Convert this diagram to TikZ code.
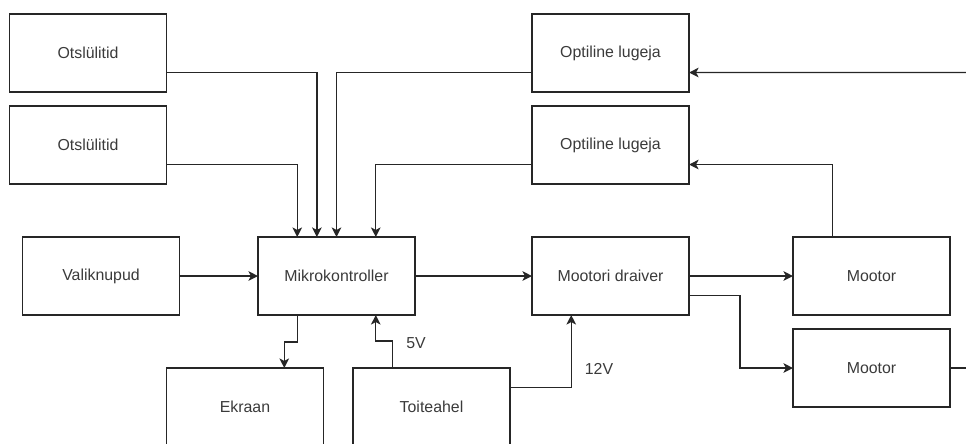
\documentclass[tikz,border=0pt]{standalone}
\usepackage{fontspec}
\setsansfont{Liberation Sans}
\usepackage{tikz}
\usetikzlibrary{arrows.meta,calc}
\definecolor{blkline}{HTML}{262626}
\definecolor{blktext}{HTML}{3A3A3A}

\tikzset{
  block/.style={draw=blkline,line width=1pt,minimum width=3.925cm,minimum height=1.95cm,inner sep=0pt,outer sep=0pt,text=blktext},
  wire/.style={draw=blkline,line width=1pt},
  arr/.style={wire,-{Stealth[length=6.8pt,width=6.8pt,inset=1.8pt]}},
  volt/.style={text=blktext}
}

\begin{document}
\begin{tikzpicture}[x=0.025cm,y=-0.025cm,font=\sffamily\fontsize{11.3}{13}\selectfont]
  \useasboundingbox (0,0) rectangle (966,443);
  % left column
  \node[block] (ots1) at (88,53) {Otslülitid};
  \node[block] (ots2) at (88,145) {Otslülitid};
  \node[block] (valik) at (101,276) {Valiknupud};
  % middle
  \node[block] (mcu) at (336.5,276) {Mikrokontroller};
  \node[block] (ekraan) at (245,407) {Ekraan};
  \node[block] (toite) at (431.5,407) {Toiteahel};
  % right side
  \node[block] (opt1) at (610.5,53) {Optiline lugeja};
  \node[block] (opt2) at (610.5,145) {Optiline lugeja};
  \node[block] (draiver) at (610.5,276) {Mootori draiver};
  \node[block] (mootor1) at (871.5,276) {Mootor};
  \node[block] (mootor2) at (871.5,368) {Mootor};
  % free ends at the right border
  \coordinate (inR) at (966,72.5);
  \coordinate (outR) at (966,368);
  % voltage labels
  \node[volt] (v5) at (416,343) {5V};
  \node[volt] (v12) at (599,369) {12V};

  % inputs into the microcontroller
  \draw[arr] ($(ots1.north east)!0.75!(ots1.south east)$) -| ($(mcu.north west)!0.375!(mcu.north east)$);
  \draw[arr] ($(ots2.north east)!0.75!(ots2.south east)$) -| ($(mcu.north west)!0.25!(mcu.north east)$);
  \draw[arr] ($(opt1.north west)!0.75!(opt1.south west)$) -| (mcu.north);
  \draw[arr] ($(opt2.north west)!0.75!(opt2.south west)$) -| ($(mcu.north west)!0.75!(mcu.north east)$);
  \draw[arr] (valik) -- (mcu);
  % drive chain
  \draw[arr] (mcu) -- (draiver);
  \draw[arr] (draiver) -- (mootor1);
  \draw[arr] ($(draiver.north east)!0.75!(draiver.south east)$) -- ++(51,0) |- (mootor2.west);
  \draw[wire] (mootor2.east) -- (outR);
  % feedback to the readers
  \draw[arr] ($(mootor1.north west)!0.25!(mootor1.north east)$) |- ($(opt2.north east)!0.75!(opt2.south east)$);
  \draw[arr] (inR) -- ($(opt1.north east)!0.75!(opt1.south east)$);
  % display and supply
  \draw[arr] ($(mcu.south west)!0.25!(mcu.south east)$) -- ++(0,27) -| ($(ekraan.north west)!0.75!(ekraan.north east)$);
  \draw[arr] ($(toite.north west)!0.25!(toite.north east)$) -- ++(0,-27) -| ($(mcu.south west)!0.75!(mcu.south east)$);
  \draw[arr] ($(toite.north east)!0.25!(toite.south east)$) -| ($(draiver.south west)!0.25!(draiver.south east)$);
\end{tikzpicture}
\end{document}
